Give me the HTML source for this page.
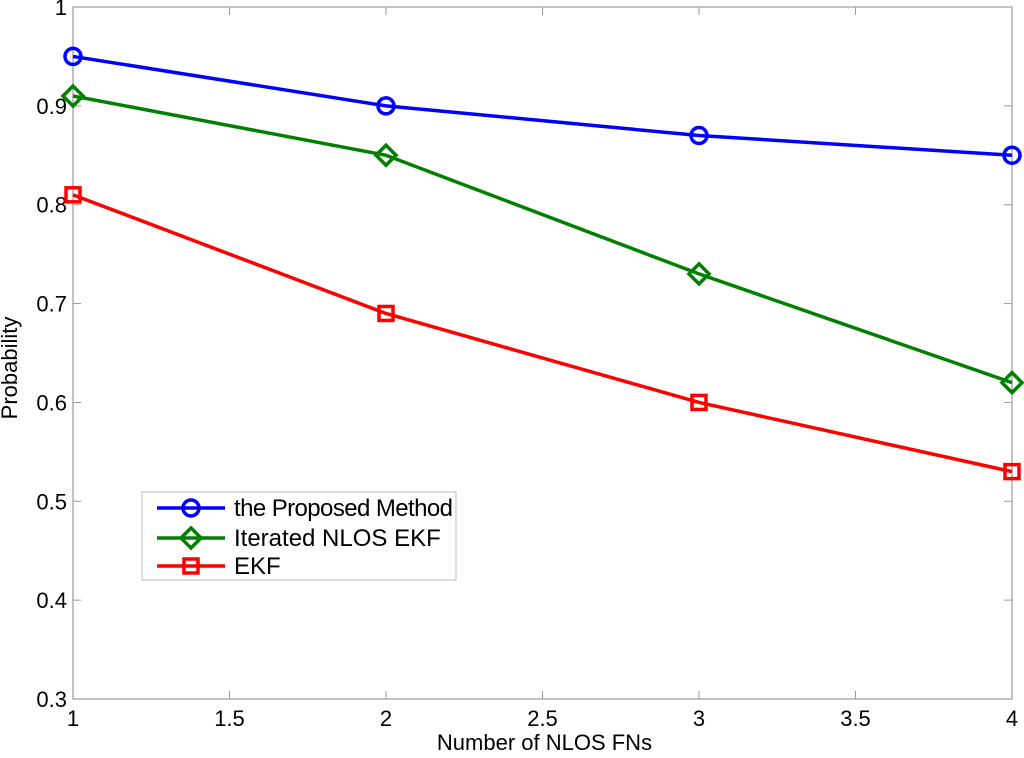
<!DOCTYPE html>
<html><head><meta charset="utf-8"><style>
body{margin:0;background:#fff}
text{font-family:"Liberation Sans",sans-serif}
</style></head><body>
<svg id="c" width="1024" height="753" xmlns="http://www.w3.org/2000/svg"></svg>
<script>
const categories=[1,2,3,4];
const proposed=[0.95,0.90,0.87,0.85];
const iterated=[0.91,0.85,0.73,0.62];
const ekf=[0.81,0.69,0.60,0.53];
const xTicks=[1,1.5,2,2.5,3,3.5,4];
const yTicks=[0.3,0.4,0.5,0.6,0.7,0.8,0.9,1];
const seriesNames=["the Proposed Method","Iterated NLOS EKF","EKF"];
const NS="http://www.w3.org/2000/svg";
const svg=document.getElementById('c');
const L=73,R=1012,T=7,B=699;
const xs=v=>L+(v-1)/3*(R-L);
const ys=v=>B-(v-0.3)/0.7*(B-T);
function mk(t,a,p){const e=document.createElementNS(NS,t);for(const k in a)e.setAttribute(k,a[k]);(p||svg).appendChild(e);return e;}
const box=mk('rect',{x:L,y:T,width:R-L,height:B-T,fill:'#fff',stroke:'#999','stroke-width':1.2});


xTicks.forEach(v=>{const x=xs(v);
 mk('line',{x1:x,y1:B,x2:x,y2:B-8,stroke:'#999'});mk('line',{x1:x,y1:T,x2:x,y2:T+8,stroke:'#999'});
 const t=mk('text',{x:x,y:B+27,'text-anchor':'middle','font-size':22,fill:'#000'});t.textContent=v;
 
 });
yTicks.forEach(v=>{const y=ys(v);
 mk('line',{x1:L,y1:y,x2:L+8,y2:y,stroke:'#999'});mk('line',{x1:R,y1:y,x2:R-8,y2:y,stroke:'#999'});
 const t=mk('text',{x:L-6,y:y+8,'text-anchor':'end','font-size':22,fill:'#000'});t.textContent=v;
 
 });
const xt=mk('text',{x:(L+R)/2+2,y:750,'text-anchor':'middle','font-size':22});xt.textContent='Number of NLOS FNs';


const yt=mk('text',{x:0,y:0,transform:`translate(17,368) rotate(-90)`,'text-anchor':'middle','font-size':22});yt.textContent='Probability';


function marker(kind,x,y,col,g){
 if(kind==='o')return mk('circle',{cx:x,cy:y,r:8,fill:'none',stroke:col,'stroke-width':3.5},g);
 if(kind==='d')return mk('polygon',{points:`${x},${y-10} ${x+10},${y} ${x},${y+10} ${x-10},${y}`,fill:'none',stroke:col,'stroke-width':3.5},g);
 return mk('rect',{x:x-7,y:y-7,width:14,height:14,fill:'none',stroke:col,'stroke-width':3.5},g);}
const series=[[proposed,'#0000ff','o','series-proposed'],[iterated,'#008000','d','series-iterated-nlos-ekf'],[ekf,'#ff0000','s','series-ekf']];
series.forEach(([vals,col,k,name])=>{
 const g=mk('g',{});
 mk('polyline',{points:vals.map((v,i)=>xs(categories[i])+','+ys(v)).join(' '),fill:'none',stroke:col,'stroke-width':3.5},g);
 vals.forEach((v,i)=>{const m=marker(k,xs(categories[i]),ys(v),col,g);
  
  });});
const lg=mk('g',{});
mk('rect',{x:142,y:492,width:314,height:88,fill:'#fff',stroke:'#bbb','stroke-width':1},lg);
const lys=[508,538,566];
series.forEach(([vals,col,k],i)=>{const y=lys[i];
 mk('line',{x1:157,y1:y,x2:225,y2:y,stroke:col,'stroke-width':3.5},lg);
 marker(k,191,y,col,lg);
 const t=mk('text',{x:234,y:y+8,'font-size':24},lg);t.textContent=seriesNames[i];
 if(i===0)t.setAttribute('textLength',219);
 
 });
</script>
</body></html>
